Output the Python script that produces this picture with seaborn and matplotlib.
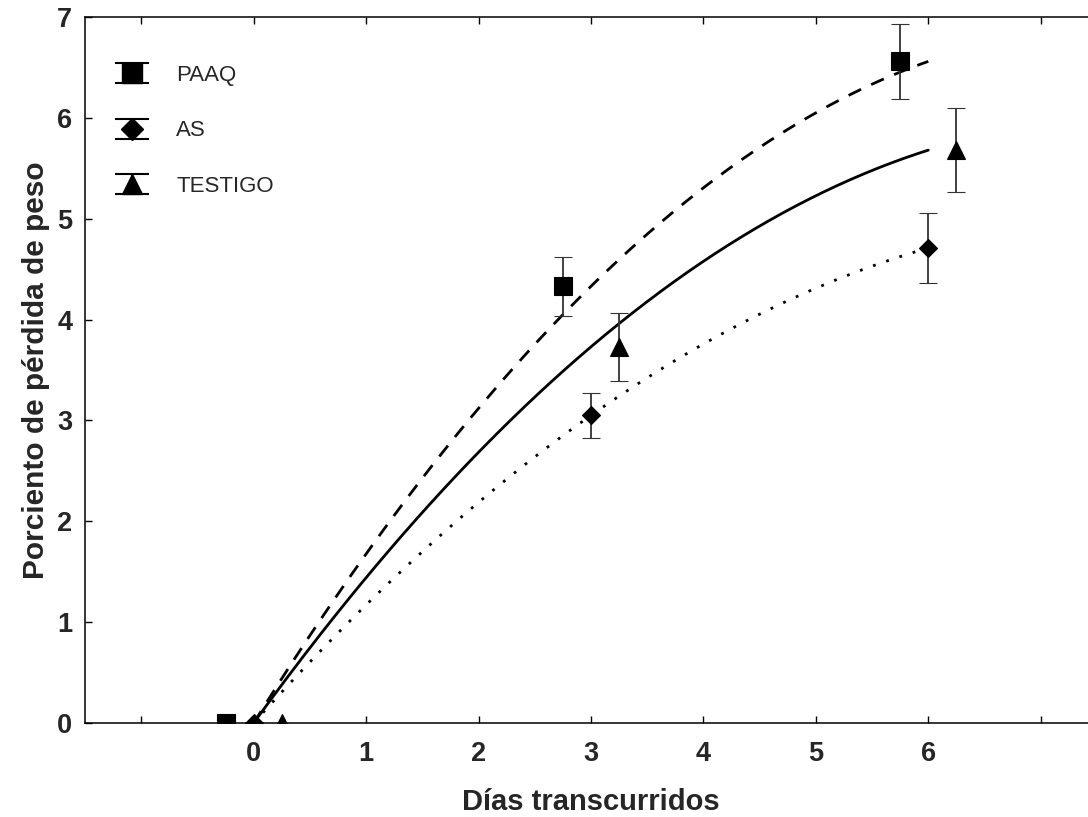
import numpy as np
import pandas as pd
import matplotlib
matplotlib.use("Agg")
import matplotlib.pyplot as plt
from matplotlib.lines import Line2D
from matplotlib.path import Path
from matplotlib.legend_handler import HandlerTuple
import seaborn as sns

# ---- data ----
dias = [0, 3, 6]
paaq = [0.0, 4.33, 6.56]
paaq_err = [0.0, 0.29, 0.37]
as_vals = [0.0, 3.05, 4.71]
as_err = [0.0, 0.22, 0.35]
testigo = [0.0, 3.73, 5.68]
testigo_err = [0.0, 0.34, 0.42]
series_names = ["PAAQ", "AS", "TESTIGO"]
x_ticks = [-1, 0, 1, 2, 3, 4, 5, 6, 7]
x_tick_labels = ["", "0", "1", "2", "3", "4", "5", "6", ""]
y_ticks = [0, 1, 2, 3, 4, 5, 6, 7]
y_tick_labels = ["0", "1", "2", "3", "4", "5", "6", "7"]

sns.set_style("ticks")
plt.rcParams["font.family"] = ["Liberation Sans", "DejaVu Sans"]

fig = plt.figure(figsize=(10.88, 8.17), dpi=100)
ax = fig.add_axes([85 / 1088, 94 / 817, 1012 / 1088, 706 / 817])

styles = {
    "PAAQ": dict(marker="s", ms=13, ls=(0, (5, 4)), off=-0.25),
    "AS": dict(marker="D", ms=9.5, ls=(0, (1, 4)), off=0.0),
    "TESTIGO": dict(marker="^", ms=13.5, ls="-", off=0.25),
}
values = {"PAAQ": (paaq, paaq_err), "AS": (as_vals, as_err), "TESTIGO": (testigo, testigo_err)}

xs = np.linspace(0, 6, 200)
for name in series_names:
    vals, errs = values[name]
    st = styles[name]
    coef = np.polyfit(dias, vals, 2)
    df = pd.DataFrame({"x": xs, "y": np.polyval(coef, xs)})
    sns.lineplot(data=df, x="x", y="y", ax=ax, color="black", lw=2,
                 linestyle=st["ls"], legend=False, zorder=2)
    cont = ax.errorbar(np.array(dias) + st["off"], vals, yerr=errs, fmt=st["marker"],
                       ms=st["ms"], color="black", mec="black", mew=0.8,
                       ecolor="#333333", elinewidth=1.3, capsize=6.5, capthick=1.3,
                       zorder=3)
    for art in [cont[0], *cont[1], *cont[2]]:
        art.set_clip_on(True)

ax.set_xlim(-1.5, 7.5)
ax.set_ylim(0, 7)
ax.set_xticks(x_ticks)
ax.set_xticklabels(x_tick_labels, fontweight="bold", fontsize=19.5)
ax.set_yticks(y_ticks)
ax.set_yticklabels(y_tick_labels, fontweight="bold", fontsize=19.5)
ax.tick_params(axis="both", direction="in", length=5, width=1, top=True, right=True, color="black")
ax.tick_params(axis="x", pad=13)
ax.tick_params(axis="y", pad=9)
for sp in ax.spines.values():
    sp.set_color("black")
    sp.set_linewidth(1.1)

ax.set_xlabel("Días transcurridos", fontsize=21, fontweight="bold", labelpad=15)
ax.set_ylabel("Porciento de pérdida de peso", fontsize=21.5, fontweight="bold", labelpad=5)

# legend: I-beam error symbol with the marker on top
ibeam = Path([(-1, 0.57), (1, 0.57), (0, 0.57), (0, -0.57), (-1, -0.57), (1, -0.57)],
             [Path.MOVETO, Path.LINETO, Path.MOVETO, Path.LINETO, Path.MOVETO, Path.LINETO])
leg_ms = {"PAAQ": 14, "AS": 11, "TESTIGO": 14}
handles = []
for name in series_names:
    cap = Line2D([], [], ls="none", marker=ibeam, ms=25, mec="black", mfc="none", mew=1.5)
    mk = Line2D([], [], ls="none", marker=styles[name]["marker"], ms=leg_ms[name],
                color="black", mec="black")
    handles.append((cap, mk))
ax.legend(handles, series_names, handler_map={tuple: HandlerTuple(ndivide=1, pad=0)},
          loc="upper left", bbox_to_anchor=(0.022, 0.932), frameon=False, fontsize=16,
          borderaxespad=0, borderpad=0, labelspacing=1.55, handletextpad=0.9,
          handlelength=2.2)

fig.savefig("out.png", dpi=100)
